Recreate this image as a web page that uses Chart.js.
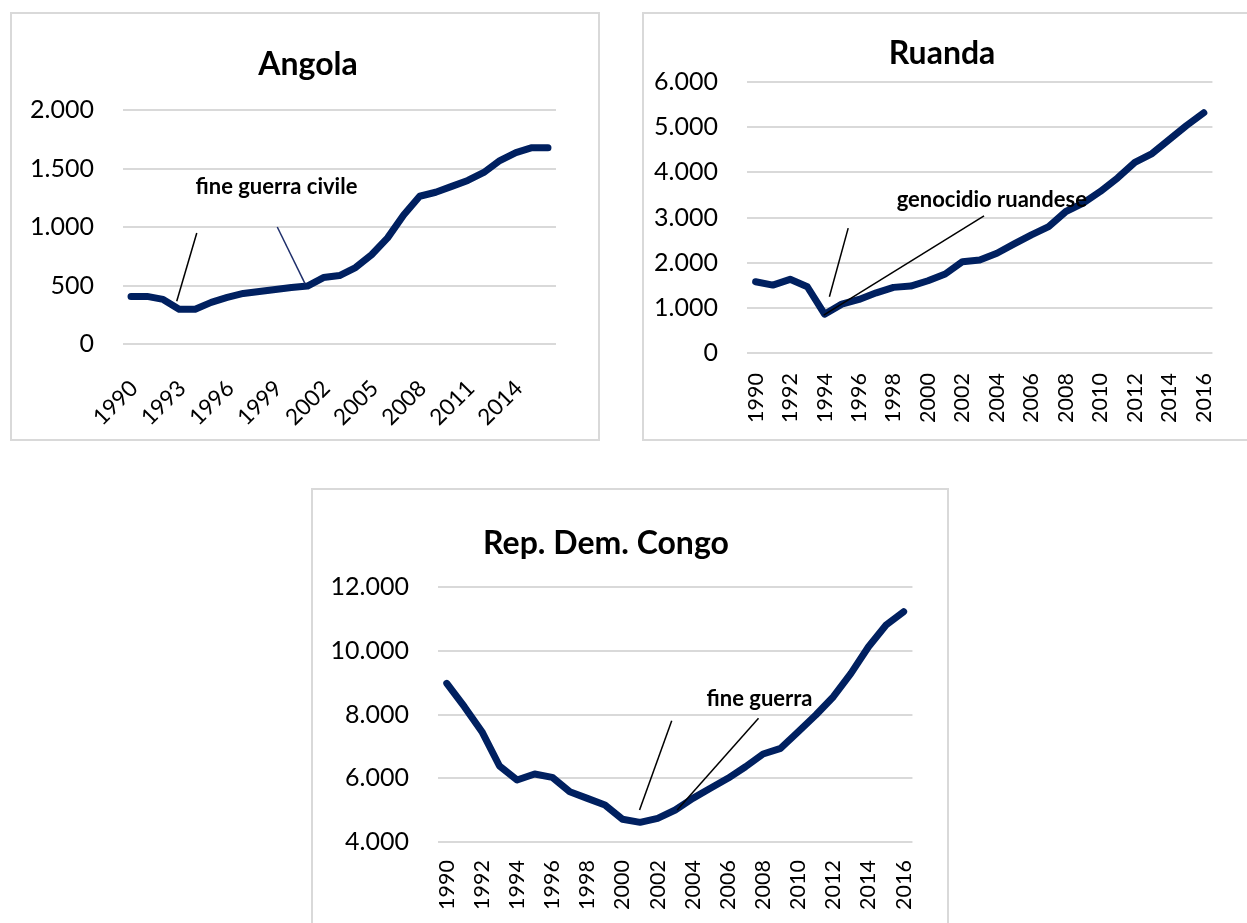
<!DOCTYPE html>
<html><head><meta charset="utf-8">
<script src="https://cdn.jsdelivr.net/npm/chart.js@4.4.0/dist/chart.umd.min.js"></script>
<style>
html,body{margin:0;padding:0;background:#fff;width:1247px;height:923px;overflow:hidden;position:relative}
.box{position:absolute;border:2px solid #d9d9d9;box-sizing:border-box}
canvas{position:absolute}
</style></head><body>
<div class="box" style="left:10px;top:12px;width:590px;height:429px"></div>
<div class="box" style="left:642px;top:12px;width:620px;height:429px"></div>
<div class="box" style="left:311px;top:488px;width:638px;height:450px"></div>
<canvas id="angola" width="588" height="427" style="left:11px;top:13px"></canvas>
<canvas id="ruanda" width="607" height="427" style="left:643px;top:13px"></canvas>
<canvas id="congo" width="636" height="440" style="left:312px;top:489px"></canvas>
<script>
// ---- data ----
const years = [1990,1991,1992,1993,1994,1995,1996,1997,1998,1999,2000,2001,2002,2003,2004,2005,2006,2007,2008,2009,2010,2011,2012,2013,2014,2015,2016];
const angolaValues = [407,407,381,297,297,356,398,432,449,466,483,495,568,585,653,763,907,1102,1263,1297,1347,1398,1466,1568,1636,1678,1678];
const ruandaValues = [1578,1504,1631,1467,860,1082,1186,1333,1453,1482,1600,1749,2022,2060,2209,2416,2616,2800,3133,3320,3578,3876,4222,4416,4727,5038,5320];
const congoValues = [8978,8245,7461,6384,5945,6133,6029,5578,5369,5161,4712,4617,4743,5004,5369,5684,5998,6362,6761,6939,7461,7984,8558,9292,10127,10807,11225];
const angolaTickYears = [1990,1993,1996,1999,2002,2005,2008,2011,2014];
const ruandaTickYears = [1990,1992,1994,1996,1998,2000,2002,2004,2006,2008,2010,2012,2014,2016];
const congoTickYears = [1990,1992,1994,1996,1998,2000,2002,2004,2006,2008,2010,2012,2014,2016];
const angolaTitle = 'Angola', ruandaTitle = 'Ruanda', congoTitle = 'Rep. Dem. Congo';
// annotations in (year, value) space: text anchor, and leader lines [year1,val1,year2,val2]
const angolaNoteText = 'fine guerra civile';
const angolaNoteAt = [1999.07, 1281];
const angolaNoteLines = [[1994.10, 949, 1992.85, 365], [1999.12, 1000, 2000.85, 516]];
const ruandaNoteText = 'genocidio ruandese';
const ruandaNoteAt = [2003.70, 3231];
const ruandaNoteLines = [[1995.37, 2764, 1994.28, 1244], [2003.25, 3038, 1993.95, 838]];
const congoNoteText = 'fine guerra';
const congoNoteAt = [2007.80, 8266];
const congoNoteLines = [[2002.80, 7805, 2000.97, 5004], [2007.74, 7880, 2003.11, 5004]];

// ---- rendering ----
const FONT = 'Lato, "Open Sans", sans-serif';
const NAVY = '#002060';
const fmt = v => String(v).replace(/\B(?=(\d{3})+(?!\d))/g, '.');

function panelPlugin(o) {
  return {
    id: 'panel_' + o.id,
    afterDatasetsDraw(chart) {
      const ctx = chart.ctx, xs = chart.scales.x, ys = chart.scales.y;
      const px = yr => xs.getPixelForValue(yr - years[0]);
      ctx.save();
      ctx.lineCap = 'butt';
      o.lines.forEach((l, i) => {
        ctx.strokeStyle = o.lineColors[i];
        ctx.lineWidth = 1.5;
        ctx.beginPath();
        ctx.moveTo(px(l[0]), ys.getPixelForValue(l[1]));
        ctx.lineTo(px(l[2]), ys.getPixelForValue(l[3]));
        ctx.stroke();
      });
      ctx.fillStyle = '#000';
      ctx.font = 'bold 22px ' + FONT;
      ctx.textAlign = 'center';
      ctx.textBaseline = 'alphabetic';
      ctx.fillText(o.noteText, px(o.noteAt[0]), ys.getPixelForValue(o.noteAt[1]));
      ctx.font = 'bold 32px ' + FONT;
      ctx.fillText(o.title, o.titleX, o.titleY);
      ctx.restore();
    }
  };
}

function makeChart(o) {
  return new Chart(document.getElementById(o.id), {
    type: 'line',
    data: {
      labels: years.map(String),
      datasets: [{
        data: o.values, borderColor: NAVY, borderWidth: 7, pointRadius: 0,
        tension: 0, borderJoinStyle: 'round', borderCapStyle: 'round', fill: false
      }]
    },
    options: {
      responsive: false, animation: false, devicePixelRatio: 1,
      layout: { padding: { top: o.top, right: o.right, left: 0, bottom: 0 } },
      plugins: { legend: { display: false }, tooltip: { enabled: false }, title: { display: false } },
      scales: {
        x: {
          offset: true,
          grid: { display: false, drawTicks: false },
          border: { display: false },
          ticks: {
            autoSkip: false, maxRotation: o.rot, minRotation: o.rot,
            padding: o.xPad, labelOffset: o.xOff, color: '#000',
            font: { family: FONT, size: o.xFont },
            callback: (v, i) => o.tickYears.includes(years[i]) ? String(years[i]) : ''
          },
          afterFit: s => { s.height = o.xH; }
        },
        y: {
          min: o.min, max: o.max,
          grid: { color: '#d9d9d9', lineWidth: 2, drawTicks: false },
          border: { display: false },
          ticks: { stepSize: o.step, padding: 29, color: '#000', font: { family: FONT, size: 25 }, callback: fmt },
          afterFit: s => { s.width = o.yW; }
        }
      }
    },
    plugins: [panelPlugin(o)]
  });
}

makeChart({ id: 'angola', values: angolaValues, tickYears: angolaTickYears, title: angolaTitle,
  titleX: 297, titleY: 62, top: 97, right: 43, yW: 112, xH: 96, rot: 45, xPad: 31, xOff: 3, xFont: 22.5,
  min: 0, max: 2000, step: 500,
  noteText: angolaNoteText, noteAt: angolaNoteAt, lines: angolaNoteLines, lineColors: ['#000', '#1f2f6b'] });

makeChart({ id: 'ruanda', values: ruandaValues, tickYears: ruandaTickYears, title: ruandaTitle,
  titleX: 299, titleY: 51, top: 69, right: 21, yW: 104, xH: 87, rot: 90, xPad: 20, xOff: 0, xFont: 21.5,
  min: 0, max: 6000, step: 1000,
  noteText: ruandaNoteText, noteAt: ruandaNoteAt, lines: ruandaNoteLines, lineColors: ['#000', '#000'] });

makeChart({ id: 'congo', values: congoValues, tickYears: congoTickYears, title: congoTitle,
  titleX: 294, titleY: 65, top: 98, right: 29, yW: 126, xH: 87, rot: 90, xPad: 18, xOff: 0, xFont: 21.5,
  min: 4000, max: 12000, step: 2000,
  noteText: congoNoteText, noteAt: congoNoteAt, lines: congoNoteLines, lineColors: ['#000', '#000'] });
</script>
</body></html>
